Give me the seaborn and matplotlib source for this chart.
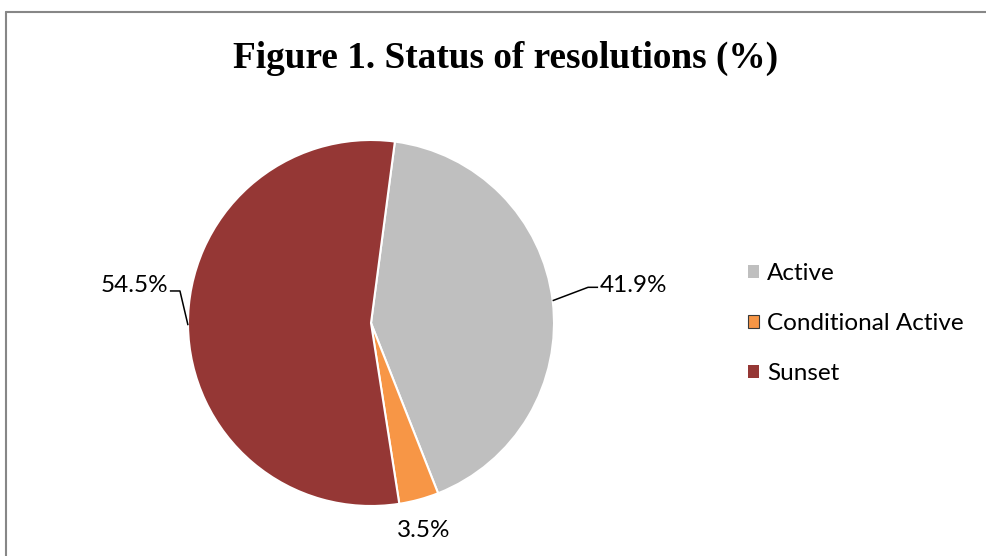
import numpy as np
import matplotlib.pyplot as plt
import matplotlib.patches as mpatches
import seaborn as sns

statuses = ["Active", "Conditional Active", "Sunset"]
shares = [41.9, 3.5, 54.5]
share_labels = ["41.9%", "3.5%", "54.5%"]
colors = sns.color_palette(["#BFBFBF", "#F79646", "#953735"])

sns.set_style("white")
plt.rcParams["font.family"] = ["Lato", "DejaVu Sans"]
plt.rcParams["text.color"] = "black"

W, H = 987, 556
cx, cy, r = 371, 323, 183  # pie centre / radius in pixels
fig = plt.figure(figsize=(W / 100, H / 100), dpi=100)
ax = fig.add_axes([0, 0, 1, 1])

start = 82.5
wedges, _ = ax.pie(shares, colors=colors, startangle=start, counterclock=False,
                   radius=1, wedgeprops=dict(edgecolor="white", linewidth=1.5))
ax.set_aspect("auto")
ax.set_xlim(-cx / r, (W - cx) / r)
ax.set_ylim(-(H - cy) / r, cy / r)
ax.axis("off")

# label positions (data units, radius = 1)
text_pos = {"Active": (1.25, 0.205), "Sunset": (-1.11, 0.205),
            "Conditional Active": (0.29, -1.135)}
elbow = {"Active": (1.186, 0.195), "Sunset": (-1.044, 0.175)}
for w, name, lab in zip(wedges, statuses, share_labels):
    mid = np.deg2rad((w.theta1 + w.theta2) / 2)
    ex, ey = np.cos(mid), np.sin(mid)
    tx, ty = text_pos[name]
    if name in elbow:
        bx, by = elbow[name]
        hx = bx + (0.055 if tx > 0 else -0.055)
        ax.plot([ex, bx, hx], [ey, by, by], color="black", lw=1.1, solid_capstyle="butt")
        ax.text(tx, ty, lab, ha="left" if tx > 0 else "right", va="center", fontsize=17.5)
    else:
        ax.text(tx, ty, lab, ha="center", va="center", fontsize=17.5)

fig.text(0.512, 0.895, "Figure 1. Status of resolutions (%)", ha="center", va="center",
         fontsize=26.8, fontweight="bold", color="black",
         family=["Liberation Serif", "DejaVu Serif"])

handles = [mpatches.Patch(facecolor=c, edgecolor="none") for c in colors]
handles[1] = mpatches.Patch(facecolor=colors[1], edgecolor="#3a3a3a", linewidth=0.8)
fig.legend(handles, statuses, loc="upper left", bbox_to_anchor=(738 / W, 1 - 253 / H),
           frameon=False, fontsize=17.5, handlelength=0.45, handleheight=0.45,
           handletextpad=0.35, labelspacing=1.2, borderaxespad=0, labelcolor="black")

# outer frame
fig.add_artist(plt.Line2D([6 / W, 6 / W], [0, 1 - 12 / H], color="#878787", lw=1.5,
                          transform=fig.transFigure))
fig.add_artist(plt.Line2D([6 / W, 1], [1 - 12 / H, 1 - 12 / H], color="#878787", lw=1.5,
                          transform=fig.transFigure))

fig.savefig("out.png", dpi=100)
